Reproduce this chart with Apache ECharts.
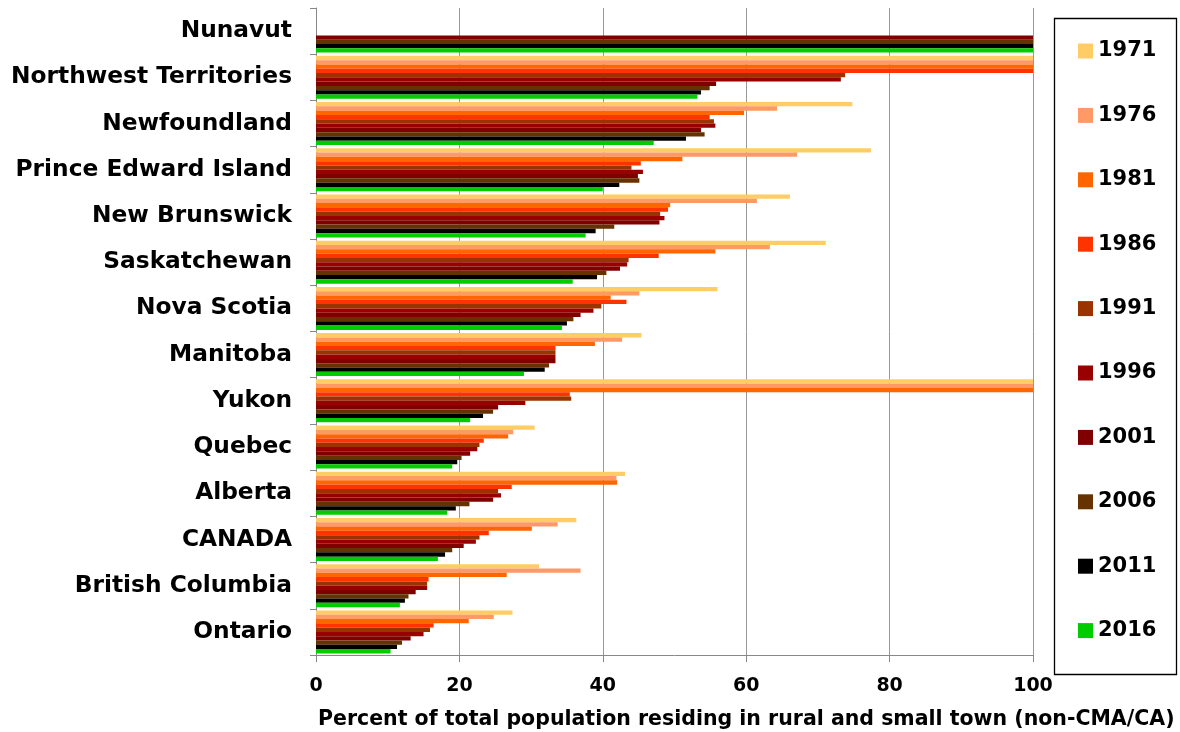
<!DOCTYPE html>
<html>
<head>
<meta charset="utf-8">
<script src="https://cdn.jsdelivr.net/npm/echarts@6/dist/echarts.min.js"></script>
<style>
  html, body { margin: 0; padding: 0; background: #fff; }
  #chart { width: 1180px; height: 732px; }
</style>
</head>
<body>
<div id="chart"></div>
<script>
// Regions, top to bottom
const regions = ['Nunavut', 'Northwest Territories', 'Newfoundland', 'Prince Edward Island',
  'New Brunswick', 'Saskatchewan', 'Nova Scotia', 'Manitoba', 'Yukon', 'Quebec',
  'Alberta', 'CANADA', 'British Columbia', 'Ontario'];

const years = ['1971', '1976', '1981', '1986', '1991', '1996', '2001', '2006', '2011', '2016'];

const yearColors = ['#FFCC66', '#FF9966', '#FF6600', '#FF3300', '#993300',
  '#990000', '#800000', '#663300', '#000000', '#00CC00'];

// Percent of population in rural and small town areas, one array per census year
// (values follow the order of `regions`; null = no data)
const v1971 = [null, 100, 74.8, 77.4, 66.1, 71.1, 56.0, 45.4, 100, 30.5, 43.1, 36.3, 31.1, 27.4];
const v1976 = [null, 100, 64.3, 67.1, 61.5, 63.3, 45.1, 42.7, 100, 27.5, 41.9, 33.7, 36.9, 24.8];
const v1981 = [null, 100, 59.7, 51.1, 49.4, 55.7, 41.1, 38.9, 100, 26.8, 42.0, 30.1, 26.6, 21.3];
const v1986 = [null, 100, 54.9, 45.3, 49.1, 47.8, 43.3, 33.4, 35.4, 23.4, 27.3, 24.1, 15.7, 16.4];
const v1991 = [null, 73.8, 55.5, 44.0, 48.0, 43.6, 39.8, 33.4, 35.6, 22.8, 25.4, 22.8, 15.5, 15.9];
const v1996 = [null, 73.2, 55.7, 45.6, 48.6, 43.4, 38.7, 33.4, 29.2, 22.5, 25.8, 22.3, 15.5, 15.0];
const v2001 = [100, 55.8, 53.7, 44.9, 47.9, 42.4, 36.9, 33.4, 25.4, 21.5, 24.7, 20.6, 13.9, 13.2];
const v2006 = [100, 54.9, 54.2, 45.1, 41.6, 40.5, 35.9, 32.5, 24.7, 20.3, 21.4, 19.0, 12.9, 12.0];
const v2011 = [100, 53.7, 51.6, 42.3, 39.0, 39.2, 35.0, 31.9, 23.3, 19.7, 19.5, 18.0, 12.4, 11.3];
const v2016 = [100, 53.2, 47.1, 40.0, 37.6, 35.8, 34.3, 29.0, 21.5, 19.0, 18.3, 17.0, 11.7, 10.4];

const valuesByYear = [v1971, v1976, v1981, v1986, v1991, v1996, v2001, v2006, v2011, v2016];

const xTicks = [0, 20, 40, 60, 80, 100];
const xTitle = 'Percent of total population residing in rural and small town (non-CMA/CA)';

const chart = echarts.init(document.getElementById('chart'), null, { renderer: 'canvas' });

const series = years.map((yr, i) => ({
  name: yr,
  type: 'bar',
  data: valuesByYear[i].map(v => (v === null ? '-' : v)),
  itemStyle: { color: yearColors[i] },
  barGap: '0%',
  barCategoryGap: '7%',
  animation: false
}));

chart.setOption({
  animation: false,
  backgroundColor: '#ffffff',
  grid: { left: 316, right: 147, top: 8, bottom: 77, containLabel: false },
  xAxis: {
    type: 'value',
    min: xTicks[0],
    max: xTicks[xTicks.length - 1],
    interval: 20,
    axisLine: { show: true, lineStyle: { color: '#888888', width: 1 } },
    axisTick: { show: true, length: 7, lineStyle: { color: '#888888' } },
    splitLine: { show: true, lineStyle: { color: '#999999', width: 1 } },
    axisLabel: {
      margin: 22,
      color: '#000',
      fontFamily: 'DejaVu Sans',
      fontWeight: 'bold',
      fontSize: 19
    }
  },
  yAxis: {
    type: 'category',
    data: regions,
    inverse: true,
    axisLine: { show: true, lineStyle: { color: '#888888', width: 1 } },
    axisTick: { show: true, length: 6, lineStyle: { color: '#888888' } },
    axisLabel: {
      margin: 24,
      color: '#000',
      fontFamily: 'DejaVu Sans',
      fontWeight: 'bold',
      fontSize: 23.3
    }
  },
  legend: {
    orient: 'vertical',
    left: 1073,
    top: 34,
    icon: 'rect',
    itemWidth: 15,
    itemHeight: 15,
    itemGap: 40.4,
    data: years,
    textStyle: {
      color: '#000',
      fontFamily: 'DejaVu Sans',
      fontWeight: 'bold',
      fontSize: 21,
      lineHeight: 24
    }
  },
  graphic: [
    {
      type: 'rect',
      left: 1052,
      top: 16,
      shape: { width: 122, height: 656 },
      style: { fill: 'none', stroke: '#000', lineWidth: 1.3 },
      silent: true
    },
    {
      type: 'text',
      left: 318,
      top: 709,
      style: {
        text: xTitle,
        fill: '#000',
        font: 'bold 20.5px "DejaVu Sans"'
      }
    }
  ],
  series: series
});
</script>
</body>
</html>
